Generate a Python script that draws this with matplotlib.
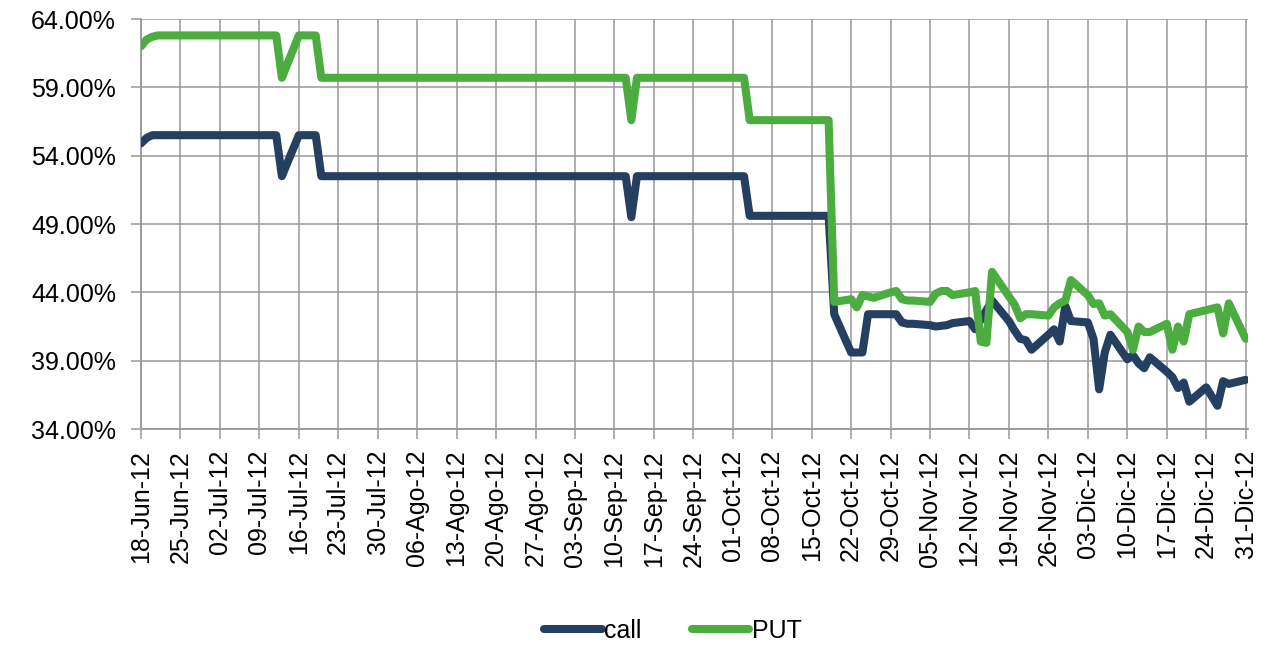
import pandas as pd
import matplotlib
matplotlib.use("Agg")
import matplotlib.pyplot as plt
from matplotlib.ticker import PercentFormatter

plt.rcParams["font.family"] = ["Liberation Sans", "DejaVu Sans"]

# --- data (implied volatility, %) ---
call_dates = [
    "2012-06-18", "2012-06-19", "2012-06-20", "2012-07-12", "2012-07-13", "2012-07-16",
    "2012-07-19", "2012-07-20", "2012-09-12", "2012-09-13", "2012-09-14", "2012-10-03",
    "2012-10-04", "2012-10-18", "2012-10-19", "2012-10-22", "2012-10-23", "2012-10-24",
    "2012-10-25", "2012-10-26", "2012-10-29", "2012-10-30", "2012-10-31", "2012-11-01",
    "2012-11-02", "2012-11-05", "2012-11-06", "2012-11-07", "2012-11-08", "2012-11-09",
    "2012-11-12", "2012-11-13", "2012-11-14", "2012-11-15", "2012-11-16", "2012-11-19",
    "2012-11-20", "2012-11-21", "2012-11-22", "2012-11-23", "2012-11-26", "2012-11-27",
    "2012-11-28", "2012-11-29", "2012-11-30", "2012-12-03", "2012-12-04", "2012-12-05",
    "2012-12-06", "2012-12-07", "2012-12-10", "2012-12-11", "2012-12-12", "2012-12-13",
    "2012-12-14", "2012-12-17", "2012-12-18", "2012-12-19", "2012-12-20", "2012-12-21",
    "2012-12-24", "2012-12-26", "2012-12-27", "2012-12-28", "2012-12-31",
]
call_vals = [
    54.9, 55.3, 55.5, 55.5, 52.5, 55.5,
    55.5, 52.5, 52.5, 49.5, 52.5, 52.5,
    49.6, 49.6, 42.4, 39.6, 39.6, 39.6,
    42.4, 42.4, 42.4, 42.4, 41.8, 41.7,
    41.7, 41.6, 41.5, 41.55, 41.6, 41.75,
    41.9, 41.3, 42.0, 42.7, 43.4, 41.9,
    41.2, 40.6, 40.5, 39.8, 40.9, 41.3,
    40.4, 43.0, 41.9, 41.8, 40.6, 36.9,
    39.6, 40.9, 39.1, 39.4, 38.8, 38.45,
    39.25, 38.2, 37.8, 37.0, 37.4, 36.0,
    37.05, 35.7, 37.5, 37.3, 37.6,
]

put_dates = [
    "2012-06-18", "2012-06-19", "2012-06-20", "2012-06-21", "2012-07-12", "2012-07-13",
    "2012-07-16", "2012-07-19", "2012-07-20", "2012-09-12", "2012-09-13", "2012-09-14",
    "2012-10-03", "2012-10-04", "2012-10-18", "2012-10-19", "2012-10-22", "2012-10-23",
    "2012-10-24", "2012-10-25", "2012-10-26", "2012-10-29", "2012-10-30", "2012-10-31",
    "2012-11-01", "2012-11-02", "2012-11-05", "2012-11-06", "2012-11-07", "2012-11-08",
    "2012-11-09", "2012-11-12", "2012-11-13", "2012-11-14", "2012-11-15", "2012-11-16",
    "2012-11-19", "2012-11-20", "2012-11-21", "2012-11-22", "2012-11-23", "2012-11-26",
    "2012-11-27", "2012-11-28", "2012-11-29", "2012-11-30", "2012-12-03", "2012-12-04",
    "2012-12-05", "2012-12-06", "2012-12-07", "2012-12-10", "2012-12-11", "2012-12-12",
    "2012-12-13", "2012-12-14", "2012-12-17", "2012-12-18", "2012-12-19", "2012-12-20",
    "2012-12-21", "2012-12-24", "2012-12-26", "2012-12-27", "2012-12-28", "2012-12-31",
]
put_vals = [
    62.0, 62.5, 62.7, 62.8, 62.8, 59.7,
    62.8, 62.8, 59.7, 59.7, 56.6, 59.7,
    59.7, 56.6, 56.6, 43.3, 43.5, 42.9,
    43.8, 43.7, 43.6, 44.0, 44.1, 43.5,
    43.4, 43.4, 43.3, 43.9, 44.1, 44.1,
    43.8, 44.0, 44.1, 40.4, 40.3, 45.5,
    43.7, 43.1, 42.1, 42.4, 42.4, 42.3,
    42.9, 43.2, 43.4, 44.9, 43.8, 43.15,
    43.2, 42.3, 42.4, 41.1, 39.8, 41.5,
    41.1, 41.1, 41.7, 39.8, 41.5, 40.4,
    42.4, 42.7, 42.9, 41.0, 43.2, 40.6,
]

y_ticks = [34, 39, 44, 49, 54, 59, 64]
month_es = ["Ene", "Feb", "Mar", "Abr", "May", "Jun",
            "Jul", "Ago", "Sep", "Oct", "Nov", "Dic"]
tick_dates = pd.date_range("2012-06-18", "2012-12-31", freq="7D")
tick_labels = [f"{d.day:02d}-{month_es[d.month - 1]}-{d.strftime('%y')}" for d in tick_dates]

CALL_COLOR = "#243F60"
PUT_COLOR = "#4BAC3F"
GRID = "#999999"
FS = 18

fig = plt.figure(figsize=(12.77, 6.47), dpi=100)
ax = fig.add_axes([0.1104, 0.3369, 0.8669, 0.6337])

ax.plot(pd.to_datetime(call_dates), call_vals, color=CALL_COLOR, lw=5.8,
        solid_joinstyle="round", solid_capstyle="round", label="call", zorder=3)
ax.plot(pd.to_datetime(put_dates), put_vals, color=PUT_COLOR, lw=5.8,
        solid_joinstyle="round", solid_capstyle="round", label="PUT", zorder=4)

ax.set_ylim(y_ticks[0], y_ticks[-1])
ax.set_yticks(y_ticks)
ax.yaxis.set_major_formatter(PercentFormatter(xmax=100, decimals=2))
ax.set_xlim(pd.Timestamp("2012-06-18"), pd.Timestamp("2012-12-31") + pd.Timedelta(hours=10))
ax.set_xticks(tick_dates)
ax.set_xticklabels(tick_labels, rotation=90, va="top", ha="center")

ax.grid(True, color=GRID, lw=1.1)
ax.set_axisbelow(True)
for s in ["top", "right"]:
    ax.spines[s].set_visible(False)
for s in ["left", "bottom"]:
    ax.spines[s].set_color(GRID)
    ax.spines[s].set_linewidth(1.3)
ax.tick_params(axis="both", direction="out", length=7, width=1.1, color=GRID,
               labelsize=FS, labelcolor="black")
ax.tick_params(axis="y", pad=11)
ax.tick_params(axis="x", pad=8)

fig.legend(loc="center", bbox_to_anchor=(0.527, 0.025), ncol=2, frameon=False,
           fontsize=FS, handlelength=2.3, handletextpad=0.1, columnspacing=2.0)

fig.savefig("out.png", dpi=100)
